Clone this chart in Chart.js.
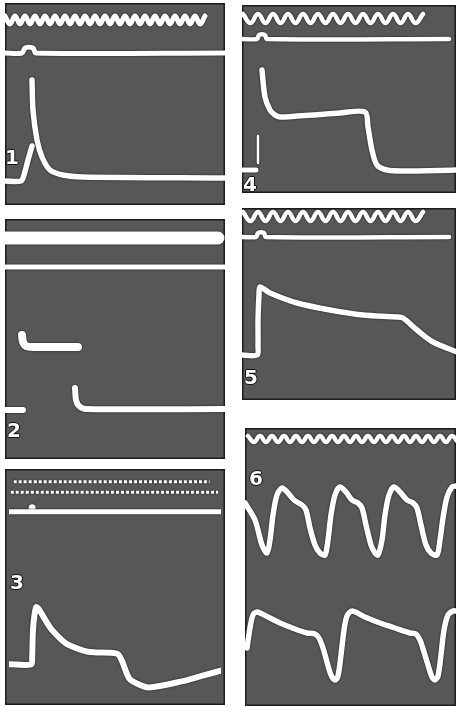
<!DOCTYPE html>
<html>
<head>
<meta charset="utf-8">
<script src="https://cdn.jsdelivr.net/npm/chart.js@4.4.1/dist/chart.umd.min.js"></script>
<style>
  html, body { margin: 0; padding: 0; background: #fff; width: 456px; height: 706px; overflow: hidden; }
  canvas { position: absolute; }
  .lbl { position: absolute; font-family: "DejaVu Sans", sans-serif; font-weight: bold; font-size: 20px;
         color: #fff; line-height: 1;
         text-shadow: 1px 0 0 #111, -1px 0 0 #111, 0 1px 0 #111, 0 -1px 0 #111; }
</style>
</head>
<body>
<canvas id="p1" width="220" height="202" style="left:5px;top:3px"></canvas>
<canvas id="p2" width="220" height="240" style="left:5px;top:219px"></canvas>
<canvas id="p3" width="220" height="236" style="left:5px;top:469px"></canvas>
<canvas id="p4" width="214" height="188" style="left:242px;top:5px"></canvas>
<canvas id="p5" width="214" height="192" style="left:242px;top:208px"></canvas>
<canvas id="p6" width="211" height="278" style="left:245px;top:428px"></canvas>
<div class="lbl" style="left:5px;top:147px">1</div>
<div class="lbl" style="left:7px;top:420px">2</div>
<div class="lbl" style="left:10px;top:572px">3</div>
<div class="lbl" style="left:243px;top:174px">4</div>
<div class="lbl" style="left:244px;top:367px">5</div>
<div class="lbl" style="left:249px;top:468px">6</div>
<script>
"use strict"

// time-marker waves: peak / trough values, one per half period
const sine1 = [189,181,189,181,189,181,189,181,189,181,189,181,189,181,189,181,189,181,189,181,189,181,189,181,189,181,189,181,189,181,189,181,189,181,189,181,189,181,189,181,189];
const sine4 = [179,170,179,170,179,170,179,170,179,170,179,170,179,170,179,170,179,170,179,170,179,170,179,170,179];
const sine5 = [188,179,188,179,188,179,188,179,188,179,188,179,188,179,188,179,188,179,188,179,188,179,188,179,188];
const sine6 = [270,264,270,264,270,264,270,264,270,264,270,264,270,264,270,264,270,264,270,264,270,264,270,264,270,264,270,264,270,264,270,264,270,264,270,264];

// stimulus marker lines [time, level]
const mark1 = [[0,152],[17,152],[20,157],[28,157],[31,152],[220,152]];
const mark2 = [[0,192],[220,192]];
const mark3 = [[0,196],[220,196]];
const mark4 = [[0,154],[15,154],[17,158],[23,158],[25,154],[207,154]];
const mark5 = [[0,163],[14,163],[16,167],[22,167],[24,163],[207,163]];

// recorded traces [time, amplitude]
const trace1a = [[0,24],[16,24],[19,30],[23,45],[27,59]];
const trace1b = [[27,125],[28,95],[32,65],[37,48],[45,35],[58,30],[78,28],[220,27]];

const band2 = [[0,221],[213,221]];
const trace2a = [[17,124],[18,117],[21,113],[28,112],[73,112]];
const trace2b = [[0,49],[18,49]];
const trace2c = [[70,71],[71,59],[74,53],[81,50],[220,50]];

const dots3a = [[5,227],[208,227]];
const dots3b = [[2,216],[217,216]];
const trace3 = [[0,38],[23,38],[24,45],[25,75],[28,97],[31,95],[37,85],[45,73],[55,63],[62,58],[82,51],[112,49],
                [117,42],[125,23],[135,17],[145,14],[178,20],[200,26],[222,32]];

const trace4a = [[0,23],[14,23]];
const tick4 = [[16,57],[16,30]];
const trace4b = [[20,123],[23,96],[28,83],[33,78],[38,76],[55,77],[71,78],[98,80],[123,81],[126,66],[130,43],
                 [135,28],[145,23],[161,22],[214,23]];

const trace5 = [[0,45],[15,45],[16,55],[16,80],[17,105],[18,113],[28,107],[55,97],[88,90],[121,85],[155,83],
                [161,82],[175,70],[191,58],[215,48]];

const trace6a = [[0,203],[10,186],[17,161],[22,153],[25,166],[28,191],[32,211],[37,218],[43,213],[49,206],[57,201],
                 [61,196],[65,178],[70,161],[75,153],[80,151],[83,166],[86,191],[90,211],[95,219],[101,214],[107,206],
                 [113,203],[117,198],[121,181],[126,161],[130,153],[133,151],[137,166],[140,191],[144,211],[149,219],
                 [155,214],[162,206],[168,203],[172,198],[176,181],[181,161],[186,153],[192,151],[195,166],[198,188],
                 [202,209],[207,219],[211,220]];
const trace6b = [[2,58],[5,78],[8,91],[12,94],[23,89],[35,83],[50,77],[62,73],[70,72],[74,68],[78,58],[82,44],
                 [86,31],[90,26],[93,30],[96,51],[99,76],[102,90],[107,95],[120,89],[135,83],[150,78],[165,73],
                 [171,72],[175,66],[179,54],[183,41],[187,29],[190,26],[193,30],[196,51],[199,76],[203,91],[208,95],[211,95]];

function trace(pts, w, extra) {
  return Object.assign({
    data: pts.map(p => ({ x: p[0], y: p[1] })),
    borderColor: '#fff', borderWidth: w, pointRadius: 0, tension: 0.3,
    borderCapStyle: 'round', borderJoinStyle: 'round'
  }, extra || {});
}
function wave(vals, start, step, w) {
  return trace(vals.map((v, i) => [start + i * step, v]), w, { tension: 0.45 });
}

// grey oscilloscope screen with a dark rim, and a dark halo round the traces
const screen = {
  id: 'screen',
  beforeDraw(chart) {
    const c = chart.ctx;
    c.save();
    c.fillStyle = '#575757';
    c.fillRect(0, 0, chart.width, chart.height);
    c.strokeStyle = '#1c1c1c';
    c.lineWidth = 1.5;
    c.strokeRect(0.75, 0.75, chart.width - 1.5, chart.height - 1.5);
    c.restore();
  },
  beforeDatasetsDraw(chart) {
    const c = chart.ctx;
    c.save();
    c.shadowColor = 'rgba(10,10,10,0.9)';
    c.shadowBlur = 2;
  },
  afterDatasetsDraw(chart) {
    chart.ctx.restore();
  }
};

function scope(id, w, h, datasets) {
  new Chart(document.getElementById(id), {
    type: 'line',
    data: { datasets: datasets },
    options: {
      responsive: false, animation: false, events: [],
      layout: { padding: 0 },
      plugins: { legend: { display: false }, tooltip: { enabled: false } },
      scales: {
        x: { type: 'linear', min: 0, max: w, display: false },
        y: { min: 0, max: h, display: false }
      }
    },
    plugins: [screen]
  });
}

scope('p1', 220, 202, [wave(sine1, 0, 5, 5), trace(mark1, 5), trace(trace1a, 5.5), trace(trace1b, 5.5)]);
scope('p2', 220, 240, [trace(band2, 13), trace(mark2, 5, { borderCapStyle: 'butt' }),
                       trace(trace2a, 8), trace(trace2b, 6), trace(trace2c, 6)]);
scope('p3', 220, 236, [trace(dots3a, 3, { borderDash: [3, 2], borderCapStyle: 'butt' }),
                       trace(dots3b, 3, { borderDash: [3, 2], borderCapStyle: 'butt' }),
                       trace(mark3, 5, { borderCapStyle: 'butt' }),
                       { data: [{ x: 24, y: 200 }], showLine: false, pointRadius: 3.5,
                         pointBackgroundColor: '#fff', pointBorderWidth: 0 },
                       trace(trace3, 6)]);
scope('p4', 214, 188, [wave(sine4, 1, 7.5, 4.5), trace(mark4, 4.5), trace(trace4a, 5),
                       trace(tick4, 2.5), trace(trace4b, 5.5)]);
scope('p5', 214, 192, [wave(sine5, 1, 7.5, 4.5), trace(mark5, 4.5), trace(trace5, 5.5)]);
scope('p6', 211, 278, [wave(sine6, 3, 6, 4.5), trace(trace6a, 5.5), trace(trace6b, 5.5)]);
</script>
</body>
</html>
